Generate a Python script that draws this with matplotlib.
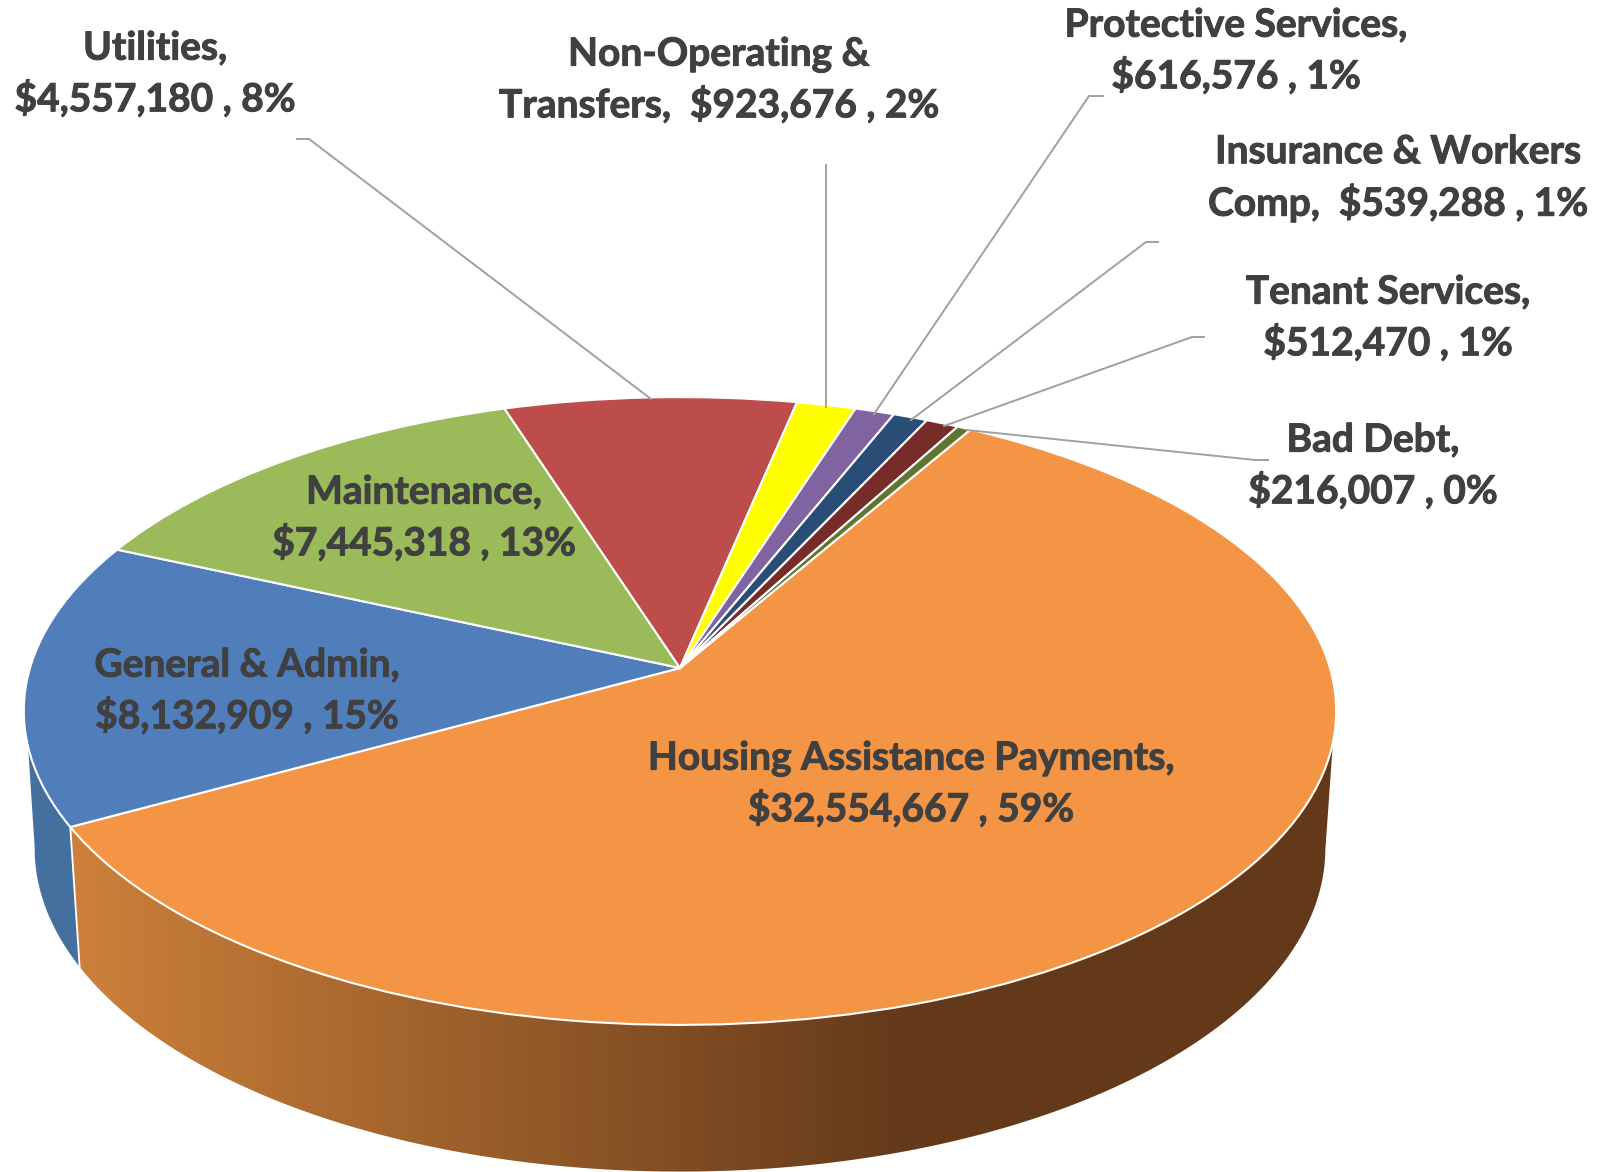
import numpy as np
import matplotlib
matplotlib.use('Agg')
import matplotlib.pyplot as plt
import matplotlib.patheffects as pe
from matplotlib.colors import LinearSegmentedColormap
from matplotlib.patches import Polygon
from matplotlib.transforms import Transform

categories = ['Housing Assistance Payments', 'General & Admin', 'Maintenance', 'Utilities',
              'Non-Operating & Transfers', 'Protective Services', 'Insurance & Workers Comp',
              'Tenant Services', 'Bad Debt']
amounts = [32554667, 8132909, 7445318, 4557180, 923676, 616576, 539288, 512470, 216007]
colors = ['#F49546', '#4F7EBB', '#9BBA59', '#BC4D4B', '#FFFF00', '#8064A2', '#2A4D75', '#772C2A', '#5F7530']
labels = ['Housing Assistance Payments,\n$32,554,667 , 59%',
          'General & Admin,\n$8,132,909 , 15%',
          'Maintenance,\n$7,445,318 , 13%',
          'Utilities,\n$4,557,180 , 8%',
          'Non-Operating &\nTransfers,  $923,676 , 2%',
          'Protective Services,\n$616,576 , 1%',
          'Insurance & Workers\nComp,  $539,288 , 1%',
          'Tenant Services,\n$512,470 , 1%',
          'Bad Debt,\n$216,007 , 0%']
label_xy = [(911, 784), (247, 691), (424, 518), (155, 74), (719, 80), (1236, 51), (1398, 178), (1388, 318), (1373, 466)]

# leader lines, in image pixels
leaders = {
    'Utilities': [(297, 139), (309, 139), (651, 399)],
    'Non-Operating': [(826, 165), (826, 407)],
    'Protective': [(1103, 96), (1089, 96), (874, 414)],
    'Insurance': [(1158, 242), (1146, 242), (911, 420)],
    'Tenant': [(1204, 337), (1192, 337), (944, 426)],
    'Bad Debt': [(1268, 460), (1255, 460), (967, 430)],
}


class Tilt(Transform):
    # unit circle -> pie disc seen in perspective, result in image pixels
    input_dims = 2
    output_dims = 2
    is_separable = False

    def __init__(self, cx, cy, a, b, k):
        super().__init__()
        self.cx, self.cy, self.a, self.b, self.k = cx, cy, a, b, k

    def transform_non_affine(self, values):
        values = np.asarray(values, dtype=float)
        w = 1 + self.k * values[:, 1]
        return np.column_stack([self.cx + self.a * values[:, 0] / w,
                                self.cy - self.b * values[:, 1] / w])


top = Tilt(680, 668, 650, 308, 0.137)
bottom = Tilt(680, 803, 639, 317, 0.14)


def arc(tilt, a1, a2):
    t = np.radians(np.linspace(a1, a2, 300))
    return tilt.transform_non_affine(np.column_stack([np.cos(t), np.sin(t)]))


fig = plt.figure(figsize=(16.16, 11.72), dpi=100)
ax = fig.add_axes([0, 0, 1, 1])

wedges, _ = ax.pie(amounts, colors=colors, startangle=60, counterclock=False,
                   wedgeprops={'edgecolor': 'white', 'linewidth': 1.5})
for w in wedges:
    w.set_transform(top + ax.transData)
    w.set_zorder(3)

# side walls, only orange and blue can be seen from the front
seam = wedges[0].theta1
blue_wall = np.vstack([arc(top, seam, seam - 14.5), arc(bottom, seam - 21, seam)])
ax.fill(blue_wall[:, 0], blue_wall[:, 1], color='#44709F', lw=0, zorder=1)

orange_wall = np.vstack([arc(top, seam, -13.5), arc(bottom, -8.3, seam)])
clip = Polygon(orange_wall, transform=ax.transData, facecolor='none', edgecolor='none')
ax.add_patch(clip)
wall_cmap = LinearSegmentedColormap.from_list('wall', ['#CC803A', '#63391A'])
shade = np.clip((np.arange(0, 1400) - 80) / (912 - 80), 0, 1).reshape(1, -1)
img = ax.imshow(shade, cmap=wall_cmap, extent=(0, 1400, 1172, 700), aspect='auto', zorder=1.5)
img.set_clip_path(clip)

ax.set_aspect('auto')
ax.set_xlim(0, 1616)
ax.set_ylim(1172, 0)
ax.axis('off')

# white edge between the two walls
p1 = arc(top, seam, seam)[0]
p2 = arc(bottom, seam, seam)[0]
ax.plot([p1[0], p2[0]], [p1[1], p2[1]], color='white', lw=1.3, zorder=2)

for name, pts in leaders.items():
    ax.plot([q[0] for q in pts], [q[1] for q in pts], color='#A0A0A0', lw=1.4, zorder=4)

for lab, (x, y) in zip(labels, label_xy):
    ax.text(x, y, lab, ha='center', va='center', family='Lato', fontweight='bold', fontsize=28,
            color='#404040', linespacing=1.45, zorder=5,
            path_effects=[pe.withStroke(linewidth=0.7, foreground='#404040')])

fig.savefig('out.png', dpi=100)
